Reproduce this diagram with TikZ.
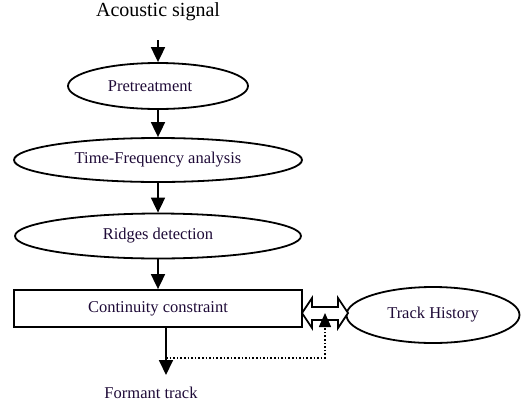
\documentclass[tikz,border=0pt]{standalone}
\usepackage{fontspec}
\setmainfont{Liberation Serif}
\usetikzlibrary{shapes.geometric,arrows.meta,calc}
\definecolor{txt}{RGB}{30,10,55}
\begin{document}
\begin{tikzpicture}[x=1pt,y=-1pt,
  ell/.style={draw,ellipse,line width=1.8pt,inner sep=0pt,text=txt,font=\fontsize{16.5}{18}\selectfont},
  boxnode/.style={draw,rectangle,line width=1.8pt,inner sep=0pt,text=txt,font=\fontsize{16.5}{18}\selectfont},
  lab/.style={inner sep=0pt,font=\fontsize{16.5}{18}\selectfont},
  flow/.style={line width=1.8pt,-{Triangle[width=14pt,length=15pt]}},
  dots/.style={line width=1.6pt,dotted,-{Triangle[width=12pt,length=14pt]}}]
\useasboundingbox (0,0) rectangle (521,410);
\node[lab,font=\fontsize{20}{22}\selectfont] (in) at (158,12) {Acoustic signal};
\coordinate (s) at (158,40);
\node[ell,minimum width=180pt,minimum height=46pt] (pre) at (158,86) {Pretreatment\hspace*{16pt}};
\node[ell,minimum width=288pt,minimum height=44pt] (tf) at (158,160) {Time-Frequency analysis};
\node[ell,minimum width=286pt,minimum height=45pt] (rd) at (158,236) {Ridges detection};
\node[boxnode,minimum width=288pt,minimum height=37pt] (cc) at (158,308.5) {Continuity constraint};
\node[ell,minimum width=173pt,minimum height=56pt] (th) at (433,315) {Track History};
\node[lab,text=txt] (out) at (151,393) {Formant track};
\coordinate (o1) at (166,327);
\coordinate (o2) at (166,375);
\coordinate (j) at (166,358);
\coordinate (tri) at (325,313);
\draw[flow] (s) -- (pre.north);
\draw[flow] (pre.south) -- (tf.north);
\draw[flow] (tf.south) -- (rd.north);
\draw[flow] (rd.south) -- (cc.north);
\draw[flow] (cc.south -| o1) -- (o2);
% double arrow between constraint box and track history
\draw[line width=1.8pt,fill=white,line join=miter]
  (302,313) -- (312,298) -- (312,307) -- (338,307) -- (338,298) -- (348,313)
  -- (338,328) -- (338,320) -- (312,320) -- (312,328) -- cycle;
\draw[dots] (j) -| (tri);
\end{tikzpicture}
\end{document}
